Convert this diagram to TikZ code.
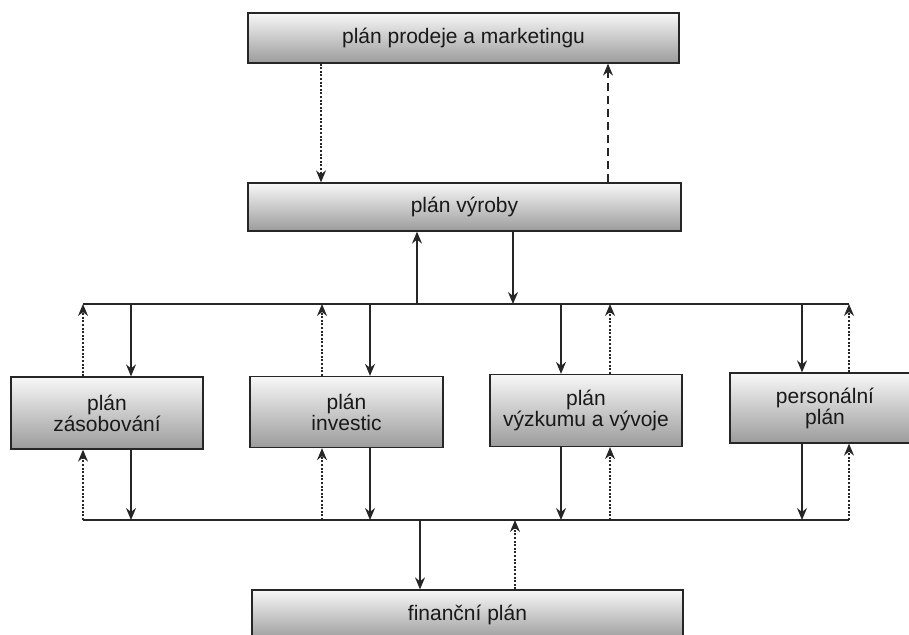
\documentclass[tikz,border=0pt]{standalone}
\usepackage{fontspec}
\setmainfont{Liberation Sans}
\usetikzlibrary{arrows.meta}
\tikzset{
  plan/.style={draw=black!85, line width=1.3pt, inner sep=0pt, align=center,
    top color=gray!6, middle color=gray!30, bottom color=gray!78,
    text=black!90, font=\fontsize{21}{21}\selectfont},
  conn/.style={line width=1.3pt, draw=black!85},
  tip/.style={-{Stealth[length=12pt,width=10pt,inset=4pt]}},
  solidarrow/.style={conn, tip},
  dotarrow/.style={conn, tip, line width=1.2pt, dash pattern=on 2pt off 1.6pt},
  dasharrow/.style={conn, tip, line width=1.2pt, dash pattern=on 8pt off 5pt},
  bus/.style={conn}
}
\begin{document}
\begin{tikzpicture}[x=1pt,y=-1pt]
\useasboundingbox (0,0) rectangle (909,634);
\clip (0,0) rectangle (909,634);
% boxes
\node[plan, minimum width=431pt, minimum height=50pt] (mkt) at (463.5,38) {plán prodeje a marketingu};
\node[plan, minimum width=433pt, minimum height=48pt] (vyr) at (464.5,207) {plán výroby};
\node[plan, minimum width=192pt, minimum height=72pt] (zas) at (107,413) {plán\\zásobování};
\node[plan, minimum width=193pt, minimum height=71pt] (inv) at (346.5,412) {plán\\investic};
\node[plan, minimum width=192pt, minimum height=72pt] (vyz) at (586,410.5) {plán\\výzkumu a vývoje};
\node[plan, minimum width=190pt, minimum height=70pt] (per) at (825,408) {personální\\plán};
\node[plan, minimum width=431pt, minimum height=50pt] (fin) at (467.5,615) {finanční plán};
% bus coordinates
\coordinate (tl) at (83,304);
\coordinate (tr) at (849,304);
\coordinate (bl) at (83,520);
\coordinate (br) at (849,520);
\draw[bus] (tl) -- (tr);
\draw[bus] (bl) -- (br);
% top connections
\coordinate (m1) at (321,0);
\coordinate (m2) at (608,0);
\draw[dotarrow] (mkt.south -| m1) -- (vyr.north -| m1);
\draw[dasharrow] (vyr.north -| m2) -- (mkt.south -| m2);
\coordinate (v1) at (417,304);
\coordinate (v2) at (513,304);
\draw[solidarrow] (v1) -- (vyr.south -| v1);
\draw[solidarrow] (vyr.south -| v2) -- (v2);
% column x positions
\coordinate (z1) at (83,0);   \coordinate (z2) at (131,0);
\coordinate (i1) at (322,0);  \coordinate (i2) at (370,0);
\coordinate (r1) at (561,0);  \coordinate (r2) at (610,0);
\coordinate (p1) at (802,0);  \coordinate (p2) at (849,0);
% zasobovani
\draw[dotarrow] (zas.north -| z1) -- (tl -| z1);
\draw[solidarrow] (tl -| z2) -- (zas.north -| z2);
\draw[dotarrow] (bl -| z1) -- (zas.south -| z1);
\draw[solidarrow] (zas.south -| z2) -- (bl -| z2);
% investic
\draw[dotarrow] (inv.north -| i1) -- (tl -| i1);
\draw[solidarrow] (tl -| i2) -- (inv.north -| i2);
\draw[dotarrow] (bl -| i1) -- (inv.south -| i1);
\draw[solidarrow] (inv.south -| i2) -- (bl -| i2);
% vyzkum
\draw[solidarrow] (tl -| r1) -- (vyz.north -| r1);
\draw[dotarrow] (vyz.north -| r2) -- (tl -| r2);
\draw[solidarrow] (vyz.south -| r1) -- (bl -| r1);
\draw[dotarrow] (bl -| r2) -- (vyz.south -| r2);
% personalni
\draw[solidarrow] (tl -| p1) -- (per.north -| p1);
\draw[dotarrow] (per.north -| p2) -- (tl -| p2);
\draw[solidarrow] (per.south -| p1) -- (bl -| p1);
\draw[dotarrow] (bl -| p2) -- (per.south -| p2);
% financni
\coordinate (f1) at (420,520);
\coordinate (f2) at (515,520);
\draw[solidarrow] (f1) -- (fin.north -| f1);
\draw[dotarrow] (fin.north -| f2) -- (f2);
\end{tikzpicture}
\end{document}
